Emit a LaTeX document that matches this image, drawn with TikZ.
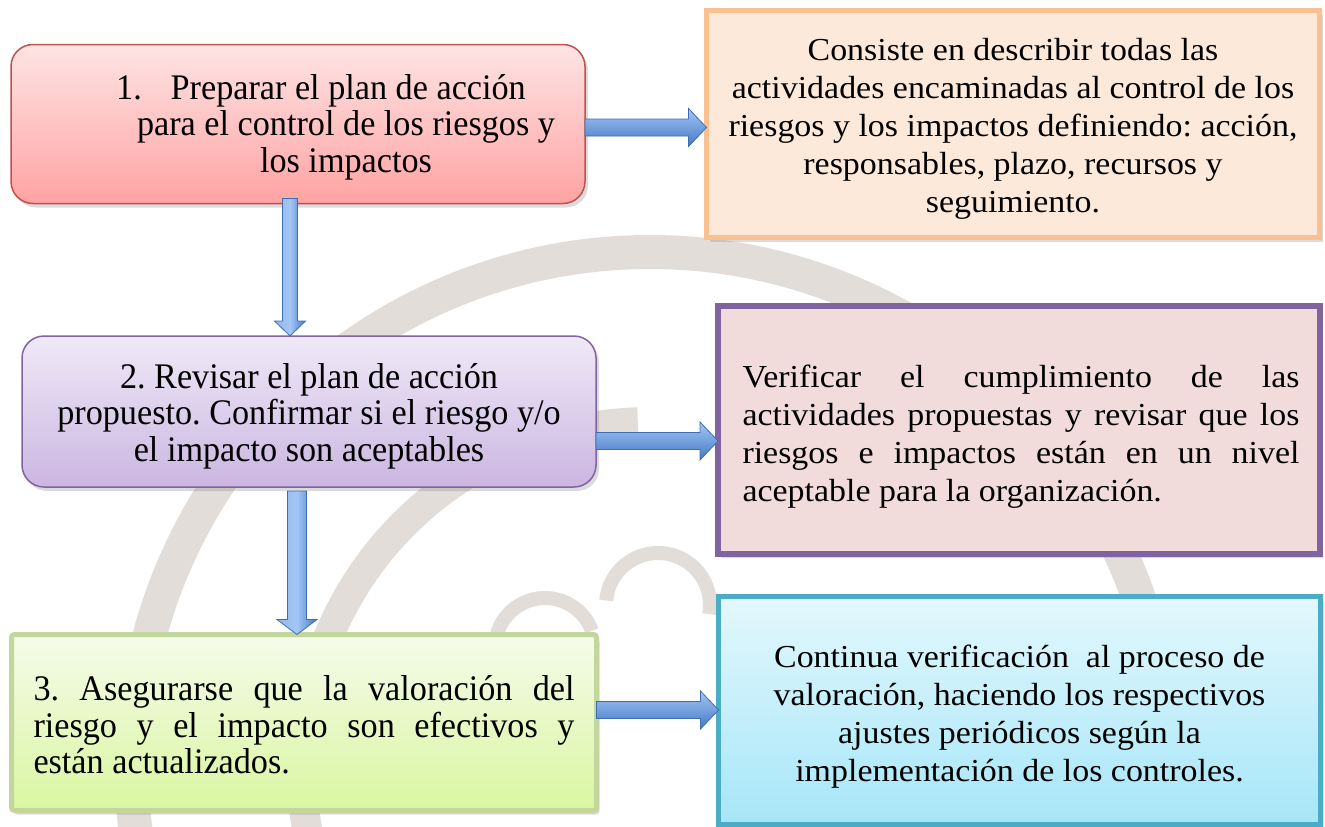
\documentclass[tikz,border=0pt]{standalone}
\usepackage{fontspec}
\setmainfont{Liberation Serif}
\newfontfamily\condfont{Liberation Serif}[FakeStretch=0.95]
\newfontfamily\widefont{Liberation Serif}[FakeStretch=1.06]
\usetikzlibrary{shadows,calc}
\definecolor{wm}{HTML}{E2DDD9}
\definecolor{redb}{HTML}{C0504D}
\definecolor{redt}{HTML}{FEE4E4}
\definecolor{redbot}{HTML}{FFA3A3}
\definecolor{purb}{HTML}{8064A2}
\definecolor{purt}{HTML}{EFE9F7}
\definecolor{purbot}{HTML}{CBB6E1}
\definecolor{greb}{HTML}{C3D69B}
\definecolor{gret}{HTML}{F6FBEB}
\definecolor{grebot}{HTML}{D9F6A0}
\definecolor{orab}{HTML}{FAC090}
\definecolor{oraf}{HTML}{FDE9D9}
\definecolor{pinkf}{HTML}{F2DCDB}
\definecolor{cyab}{HTML}{4BACC6}
\definecolor{cyat}{HTML}{E3F8FD}
\definecolor{cyabot}{HTML}{A6E6F8}
\definecolor{arrl}{HTML}{A3C6F5}
\definecolor{arrd}{HTML}{4479C4}
\definecolor{arro}{HTML}{3D6DB3}
\tikzset{
  shad/.style={drop shadow={opacity=0.28,shadow xshift=3pt,shadow yshift=-4pt}},
  boxbase/.style={shad,inner sep=0pt,outer sep=0pt},
  rbox1/.style={boxbase,rounded corners=22pt,draw=redb,line width=1.5pt,top color=redt,bottom color=redbot},
  rbox2/.style={boxbase,rounded corners=22pt,draw=purb,line width=1.5pt,top color=purt,bottom color=purbot},
  gbox/.style={boxbase,rounded corners=3pt,draw=greb,line width=5pt,top color=gret,bottom color=grebot},
  obox/.style={boxbase,draw=orab,line width=5pt,fill=oraf},
  pbox/.style={boxbase,draw=purb,line width=6pt,fill=pinkf},
  cbox/.style={boxbase,draw=cyab,line width=5pt,top color=cyat,bottom color=cyabot},
  ltext/.style={font=\condfont\fontsize{36}{36.5}\selectfont,inner sep=0pt},
  rtext/.style={font=\widefont\fontsize{32}{38}\selectfont,inner sep=0pt},
  harr/.style={draw=arro,line width=0.8pt,top color=arrl,bottom color=arrd},
  varr/.style={draw=arro,line width=0.8pt,left color=arrl!80!arrd,right color=arrd,middle color=arrl},
  wmline/.style={draw=wm},
}
\newcommand\hblock[2]{%
  \path[harr] let \p1=(#1), \p2=(#2) in
    (\x1,\y1+8.5pt) -- (\x2-18pt,\y1+8.5pt) -- (\x2-18pt,\y1+19pt) -- (\x2,\y1)
    -- (\x2-18pt,\y1-19pt) -- (\x2-18pt,\y1-8.5pt) -- (\x1,\y1-8.5pt) -- cycle;}
\newcommand\vblock[4]{% start, end, shaft half width, head half width
  \path[varr] let \p1=(#1), \p2=(#2) in
    (\x1-#3,\y1) -- (\x1+#3,\y1) -- (\x1+#3,\y2+15pt) -- (\x1+#4,\y2+15pt) -- (\x1,\y2)
    -- (\x1-#4,\y2+15pt) -- (\x1-#3,\y2+15pt) -- cycle;}
\frenchspacing
\begin{document}
\begin{tikzpicture}[x=1pt,y=-1pt]
\useasboundingbox (0,0) rectangle (1325,827);
\fill[white] (0,0) rectangle (1325,827);
\begin{scope}
\clip (0,0) rectangle (1325,827);
\coordinate (wc) at (650,770);
\draw[wmline,line width=34pt] (wc) circle (518pt);
\draw[wmline,line width=30pt] (wc) ++(92:348pt) arc[start angle=92,end angle=200,radius=348pt];
\coordinate (cl1) at (545,648);
\coordinate (cl2) at (658,605);
\draw[wmline,line width=14pt] (cl1) ++(200:50pt) arc[start angle=200,end angle=20,radius=50pt];
\draw[wmline,line width=14pt] (cl2) ++(175:52pt) arc[start angle=175,end angle=-10,radius=52pt];
\end{scope}

% left boxes
\node[rbox1,minimum width=574pt,minimum height=159pt] (b1) at (298,124) {};
\node[ltext,align=center] (t1) at (346,127)
  {1.\hspace{0.8em}Preparar el plan de acción\hspace*{50pt}\\para el control de los riesgos y\\los impactos};
\node[rbox2,minimum width=574pt,minimum height=151pt] (b2) at (309,411.5) {};
\node[ltext,align=center] (t2) at ($(b2.center)+(0,4.5)$)
  {2. Revisar el plan de acción\\propuesto. Confirmar si el riesgo y/o\\el impacto son aceptables};
\node[gbox,minimum width=585pt,minimum height=176pt] (b3) at (304,722.5) {};
\node[ltext,text width=541pt,align=justify] (t3) at ($(b3.center)+(0,2.5)$)
  {\tolerance=10000\relax 3. Asegurarse que la valoración del\linebreak riesgo y el impacto son efectivos y\linebreak están actualizados.};

% right boxes
\node[obox,minimum width=613pt,minimum height=227pt] (r1) at (1013,124) {};
\node[rtext,align=center] (s1) at ($(r1.center)+(0,5)$)
  {Consiste en describir todas las\\actividades encaminadas al control de los\\riesgos y los impactos definiendo: acción,\\responsables, plazo, recursos y\\seguimiento.};
\node[pbox,minimum width=602pt,minimum height=248pt] (r2) at (1019,430) {};
\node[rtext,text width=557pt,align=justify] (s2) at ($(r2.center)+(2,6.5)$)
  {\tolerance=10000\relax Verificar el cumplimiento de las\linebreak actividades propuestas y revisar que los\linebreak riesgos e impactos están en un nivel\linebreak aceptable para la organización.};
\node[cbox,minimum width=602pt,minimum height=228pt] (r3) at (1019.5,710.5) {};
\node[rtext,align=center] (s3) at ($(r3.center)+(0,6.5)$)
  {Continua verificación\ \ al proceso de\\valoración, haciendo los respectivos\\ajustes periódicos según la\\implementación de los controles.};

% connectors
\hblock{$(b1.east)+(0,3.5)$}{r1.west}
\hblock{$(b2.east)+(0,29.5)$}{r2.west}
\hblock{$(b3.east)+(0,-12.5)$}{r3.west}
\vblock{$(b1.south)+(-8,-5)$}{b2.north}{7.5pt}{15.5pt}
\vblock{$(b2.south)+(-12,4)$}{b3.north}{9.5pt}{20pt}
\end{tikzpicture}
\end{document}
